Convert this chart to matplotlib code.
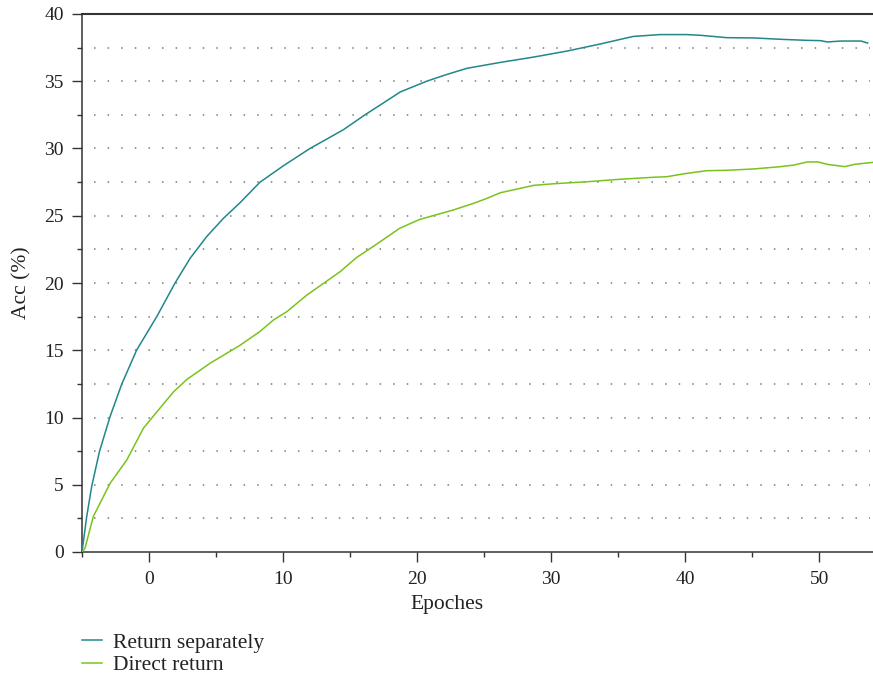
import numpy as np
import matplotlib.pyplot as plt
from matplotlib.ticker import MultipleLocator

plt.rcParams['font.family'] = ['Liberation Serif', 'DejaVu Serif']

# Return separately (teal)
sep_x = [-5, -4.65, -4.28, -3.7, -2.91, -2.04, -0.92, 0.57, 1.94, 3.06, 4.3, 5.55,
         6.79, 8.28, 10, 12.0, 13.13, 14.5, 16.1, 17.5, 18.73, 20.7, 22.2, 23.7,
         26.2, 28.7, 31.2, 33.66, 36.1, 38.1, 40.1, 41.1, 43.1, 45.1, 47.1, 49.1,
         50.1, 50.6, 51.6, 53.1, 53.6]
sep_y = [0, 2.63, 4.86, 7.46, 10.06, 12.47, 15.02, 17.49, 20.0, 21.83, 23.45, 24.81,
         25.97, 27.5, 28.7, 30.0, 30.63, 31.4, 32.5, 33.4, 34.2, 35.0, 35.5, 35.96,
         36.4, 36.8, 37.25, 37.77, 38.33, 38.47, 38.47, 38.42, 38.24, 38.22, 38.12, 38.04,
         38.02, 37.92, 37.99, 37.99, 37.84]

# Direct return (green)
dir_x = [-5, -4.78, -4.16, -3.41, -2.91, -1.66, -0.42, 0.32, 1.82, 2.81, 4.55, 6.79,
         8.28, 9.28, 10.28, 11.77, 14.25, 15.5, 16.7, 18.7, 20.2, 21.7, 22.7, 24.2,
         25.2, 26.2, 27.7, 28.7, 30.2, 32.7, 35.1, 37.6, 38.6, 40.1, 41.6, 43.1,
         45.1, 47.1, 48.1, 49.1, 49.9, 50.6, 51.9, 52.6, 54.0]
dir_y = [0, 0.27, 2.63, 4.11, 5.1, 6.84, 9.2, 10.1, 11.9, 12.82, 14.03, 15.37,
         16.4, 17.25, 17.87, 19.1, 20.84, 21.91, 22.7, 24.07, 24.73, 25.15, 25.43, 25.92,
         26.29, 26.71, 27.04, 27.26, 27.38, 27.53, 27.71, 27.86, 27.9, 28.15, 28.35, 28.38,
         28.48, 28.65, 28.77, 29.0, 29.0, 28.82, 28.65, 28.82, 28.97]

grid_levels = np.arange(2.5, 40, 2.5)

fig = plt.figure(figsize=(8.73, 6.74), dpi=100)
ax = fig.add_axes([82/873, 1 - 552/674, 1 - 82/873, (552 - 14)/674])

ax.hlines(grid_levels, -4.1, 53.8, colors='#7a7a7a', linewidth=1.1,
          linestyles=(0, (1, 7.9)), zorder=1)

ax.plot(sep_x, sep_y, color='#21878a', lw=1.1, label='Return separately', zorder=3)
ax.plot(dir_x, dir_y, color='#79c31d', lw=1.1, label='Direct return', zorder=3)

ax.set_xlim(-5, 54)
ax.set_ylim(0, 40)
ax.xaxis.set_major_locator(MultipleLocator(10))
ax.xaxis.set_minor_locator(MultipleLocator(5))
ax.yaxis.set_major_locator(MultipleLocator(5))
ax.yaxis.set_minor_locator(MultipleLocator(2.5))

ax.spines['right'].set_visible(False)
for s in ['left', 'bottom', 'top']:
    ax.spines[s].set_color('#333333')
    ax.spines[s].set_linewidth(1.1)
ax.spines['top'].set_linewidth(1.5)

ax.tick_params(which='major', direction='out', length=7.2, width=1.0,
               color='#333333', labelsize=14, labelcolor='#222222')
ax.tick_params(which='minor', direction='out', length=3.6, width=1.0, color='#333333')
ax.tick_params(axis='y', pad=6)
ax.tick_params(axis='x', pad=6.5)

ax.set_xlabel('Epoches', fontsize=15.5, color='#222222')
ax.set_ylabel('Acc (%)', fontsize=15.5, color='#222222')
ax.xaxis.set_label_coords((447 - 82) / 791, -(595 - 552) / 538)
ax.yaxis.set_label_coords(-(82 - 31) / 791, 0.5)

fig.legend(loc='center left', bbox_to_anchor=(82/873, 1 - 654/674), frameon=False,
           fontsize=15.5, handlelength=0.93, handletextpad=0.5, labelspacing=0.12,
           borderpad=0, borderaxespad=0, labelcolor='#222222')

fig.savefig('out.png', dpi=100)
